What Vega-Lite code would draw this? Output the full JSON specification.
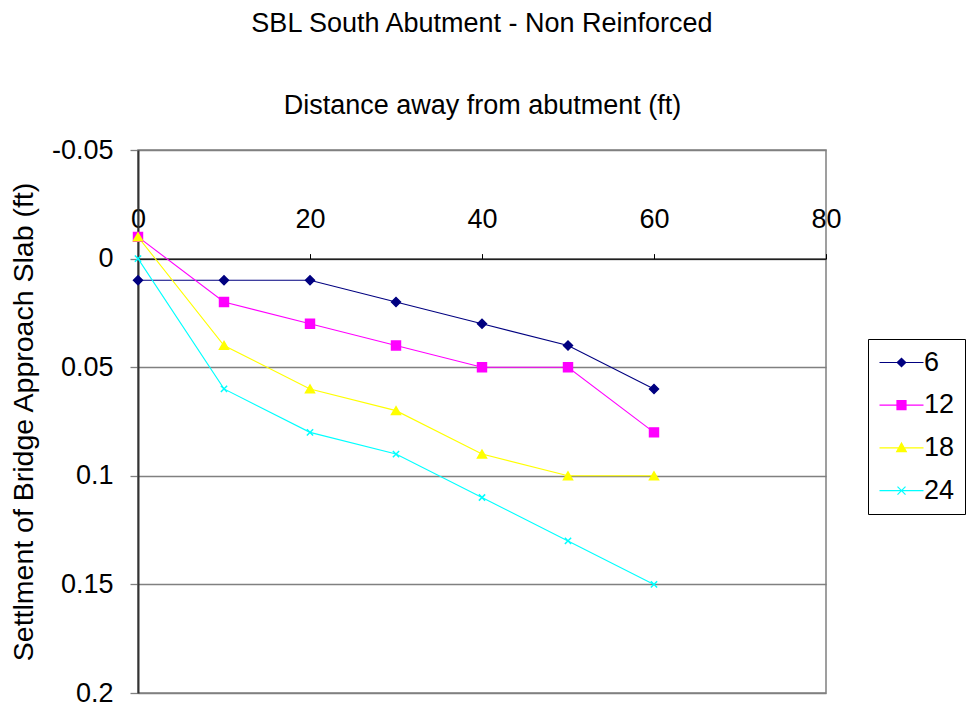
{
  "$schema": "https://vega.github.io/schema/vega-lite/v6.json",
  "width": 688,
  "height": 543,
  "autosize": {"type": "none"},
  "padding": {"left": 138, "top": 150, "right": 145, "bottom": 15},
  "background": "white",
  "title": {
    "text": "SBL South Abutment - Non Reinforced",
    "frame": "group",
    "anchor": "middle",
    "fontSize": 27,
    "font": "Liberation Sans",
    "fontWeight": "normal",
    "color": "black",
    "baseline": "alphabetic",
    "offset": 32
  },
  "config": {
    "font": "Liberation Sans",
    "view": {"stroke": "#808080", "strokeWidth": 1.5}
  },
  "data": {
    "values": [
      {"distance": 0, "settlement": 0.01, "series": "6"},
      {"distance": 10, "settlement": 0.01, "series": "6"},
      {"distance": 20, "settlement": 0.01, "series": "6"},
      {"distance": 30, "settlement": 0.02, "series": "6"},
      {"distance": 40, "settlement": 0.03, "series": "6"},
      {"distance": 50, "settlement": 0.04, "series": "6"},
      {"distance": 60, "settlement": 0.06, "series": "6"},
      {"distance": 0, "settlement": -0.01, "series": "12"},
      {"distance": 10, "settlement": 0.02, "series": "12"},
      {"distance": 20, "settlement": 0.03, "series": "12"},
      {"distance": 30, "settlement": 0.04, "series": "12"},
      {"distance": 40, "settlement": 0.05, "series": "12"},
      {"distance": 50, "settlement": 0.05, "series": "12"},
      {"distance": 60, "settlement": 0.08, "series": "12"},
      {"distance": 0, "settlement": -0.01, "series": "18"},
      {"distance": 10, "settlement": 0.04, "series": "18"},
      {"distance": 20, "settlement": 0.06, "series": "18"},
      {"distance": 30, "settlement": 0.07, "series": "18"},
      {"distance": 40, "settlement": 0.09, "series": "18"},
      {"distance": 50, "settlement": 0.1, "series": "18"},
      {"distance": 60, "settlement": 0.1, "series": "18"},
      {"distance": 0, "settlement": 0, "series": "24"},
      {"distance": 10, "settlement": 0.06, "series": "24"},
      {"distance": 20, "settlement": 0.08, "series": "24"},
      {"distance": 30, "settlement": 0.09, "series": "24"},
      {"distance": 40, "settlement": 0.11, "series": "24"},
      {"distance": 50, "settlement": 0.13, "series": "24"},
      {"distance": 60, "settlement": 0.15, "series": "24"}
    ]
  },
  "encoding": {
    "x": {
      "field": "distance",
      "type": "quantitative",
      "scale": {"domain": [0, 80], "nice": false},
      "axis": {
        "orient": "top",
        "offset": -108.6,
        "values": [0, 20, 40, 60, 80],
        "grid": false,
        "domainColor": "black",
        "domainWidth": 1.2,
        "tickColor": "black",
        "tickSize": 5,
        "labelFontSize": 27,
        "labelColor": "black",
        "labelPadding": 20,
        "labelFlush": false,
        "labelOverlap": false,
        "title": "Distance away from abutment (ft)",
        "titleFontSize": 27,
        "titleFontWeight": "normal",
        "titleColor": "black",
        "titleBaseline": "alphabetic",
        "titleY": -145.6
      }
    },
    "y": {
      "field": "settlement",
      "type": "quantitative",
      "scale": {"domain": [-0.05, 0.2], "reverse": true, "nice": false, "zero": false},
      "axis": {
        "values": [-0.05, 0, 0.05, 0.1, 0.15, 0.2],
        "labelExpr": "'' + datum.value",
        "grid": true,
        "gridColor": "#808080",
        "gridWidth": 1.3,
        "domainColor": "#333333",
        "domainWidth": 2,
        "tickColor": "#808080",
        "tickWidth": 1.3,
        "tickSize": 8,
        "labelFontSize": 27,
        "labelColor": "black",
        "labelPadding": 17,
        "title": "Settlment of Bridge Approach Slab (ft)",
        "titleFontSize": 28.5,
        "titleFontWeight": "normal",
        "titleColor": "black",
        "titlePadding": 13
      }
    },
    "color": {
      "field": "series",
      "type": "nominal",
      "sort": ["6", "12", "18", "24"],
      "scale": {"domain": ["6", "12", "18", "24"], "range": ["#000080", "#FF00FF", "#FFFF00", "#00FFFF"]},
      "legend": {
        "orient": "none",
        "legendX": 730,
        "legendY": 189,
        "title": null,
        "strokeColor": "black",
        "fillColor": "white",
        "padding": 10,
        "rowPadding": 14.7,
        "symbolSize": 400,
        "symbolOffset": 10,
        "labelOffset": 9,
        "labelFontSize": 27,
        "labelColor": "black",
        "symbolStrokeWidth": 1.2,
        "encoding": {
          "symbols": {
            "shape": {"value": {"expr": "datum.value === '6' ? 'M-2.2,0H2.2M-0.42,0L0,-0.42L0.42,0L0,0.42Z' : datum.value === '12' ? 'M-2.2,0H2.2M-0.45,-0.45H0.45V0.45H-0.45Z' : datum.value === '18' ? 'M-2.2,0H2.2M0,-0.48L0.48,0.38H-0.48Z' : 'M-2.2,0H2.2M-0.4,-0.4L0.4,0.4M0.4,-0.4L-0.4,0.4'"}},
            "fill": {"value": {"expr": "scale('color', datum.value)"}},
            "stroke": {"value": {"expr": "scale('color', datum.value)"}},
            "strokeWidth": {"value": 1.2}
          }
        }
      }
    }
  },
  "layer": [
    {
      "mark": {"type": "line", "strokeWidth": 1.1}
    },
    {
      "mark": {"type": "point", "filled": true, "size": 80, "opacity": 1, "strokeWidth": 1.5},
      "encoding": {
        "shape": {
          "field": "series",
          "type": "nominal",
          "sort": ["6", "12", "18", "24"],
          "scale": {"range": ["diamond", "square", "triangle-up", "M-0.7,-0.7L0.7,0.7M0.7,-0.7L-0.7,0.7"]},
          "legend": null
        },
        "stroke": {
          "field": "series",
          "type": "nominal",
          "sort": ["6", "12", "18", "24"],
          "scale": {"range": ["#000080", "#FF00FF", "#FFFF00", "#00FFFF"]},
          "legend": null
        }
      }
    }
  ]
}
